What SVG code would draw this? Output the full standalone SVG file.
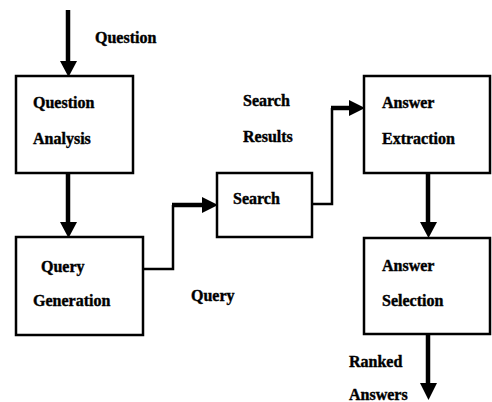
<svg xmlns="http://www.w3.org/2000/svg" width="492" height="402" viewBox="0 0 492 402">
<defs>
<style>
.box{fill:#fff;stroke:#000;stroke-width:2.5}
.t{font-family:'Liberation Serif','Times New Roman','DejaVu Serif',serif;font-weight:bold;font-size:16px;fill:#000;stroke:#000;stroke-width:0.4}
.thin{fill:none;stroke:#000;stroke-width:2.5}
.thick{fill:none;stroke:#000;stroke-width:4.5}
.head{fill:#000}
</style>
</defs>
<rect width="492" height="402" fill="#fff"/>
<g id="connectors">
<line class="thick" x1="68" y1="10" x2="68" y2="62"/>
<polygon class="head" points="60,61 77,61 68.5,77"/>
<line class="thick" x1="68" y1="173" x2="68" y2="223"/>
<polygon class="head" points="60,222 77,222 68.5,238"/>
<polyline class="thin" points="143,269 173,269 173,205"/>
<line class="thick" x1="172" y1="205" x2="204" y2="205"/>
<polygon class="head" points="202,197 218,205 202,213"/>
<polyline class="thin" points="312,204 332,204 332,108"/>
<line class="thick" x1="331" y1="108" x2="351" y2="108"/>
<polygon class="head" points="349,100 365,108 349,116"/>
<line class="thick" x1="428" y1="173" x2="428" y2="223"/>
<polygon class="head" points="420,222 437,222 428.5,238"/>
<line class="thick" x1="428" y1="334" x2="428" y2="385"/>
<polygon class="head" points="420,383 437,383 428.5,400"/>
</g>
<g id="label-question"><text class="t" x="95" y="43" font-family="Liberation Serif, serif">Question</text></g>
<g id="question-analysis">
<rect class="box" x="16" y="76" width="117" height="97"/>
<text class="t" x="33" y="108">Question</text>
<text class="t" x="33" y="144">Analysis</text>
</g>
<g id="query-generation">
<rect class="box" x="16" y="237" width="127" height="98"/>
<text class="t" x="41" y="272">Query</text>
<text class="t" x="33" y="306">Generation</text>
</g>
<g id="label-query"><text class="t" x="191" y="301">Query</text></g>
<g id="search">
<rect class="box" x="217" y="173" width="95" height="64"/>
<text class="t" x="233" y="204">Search</text>
</g>
<g id="label-search-results">
<text class="t" x="243" y="106">Search</text>
<text class="t" x="243" y="142">Results</text>
</g>
<g id="answer-extraction">
<rect class="box" x="364" y="76" width="126" height="97"/>
<text class="t" x="382" y="108">Answer</text>
<text class="t" x="382" y="144">Extraction</text>
</g>
<g id="answer-selection">
<rect class="box" x="364" y="238" width="126" height="96"/>
<text class="t" x="382" y="271">Answer</text>
<text class="t" x="382" y="306">Selection</text>
</g>
<g id="label-ranked-answers">
<text class="t" x="349" y="367">Ranked</text>
<text class="t" x="349" y="400">Answers</text>
</g>
</svg>
